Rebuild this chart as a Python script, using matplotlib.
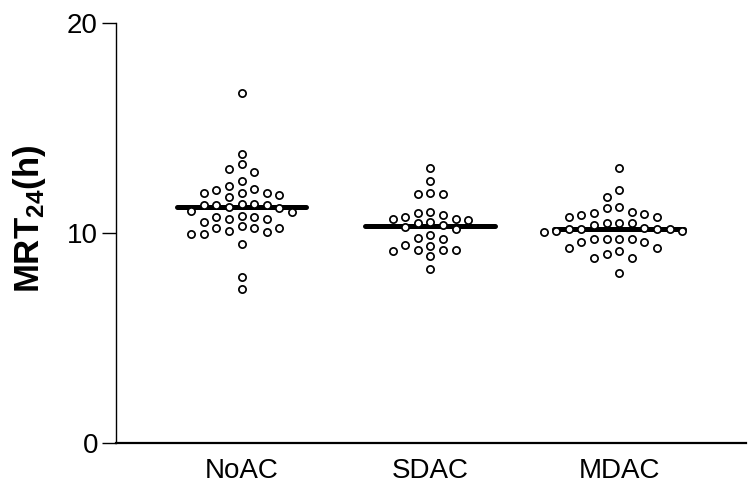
import numpy as np
import matplotlib
matplotlib.use("Agg")
import matplotlib.pyplot as plt

plt.rcParams['font.family'] = ['Liberation Sans', 'DejaVu Sans']
plt.rcParams['mathtext.default'] = 'regular'

categories = ["NoAC", "SDAC", "MDAC"]

noac = [16.68, 13.75, 13.27, 12.89, 13.03, 12.49, 12.08, 12.05, 12.24, 11.92,
        11.89, 11.70, 11.81, 11.89, 11.33, 11.17, 11.38, 11.33, 11.33, 11.38,
        11.22, 10.98, 11.06, 10.67, 10.78, 10.75, 10.81, 10.51, 10.67, 10.33,
        10.06, 10.22, 9.94, 10.10, 10.22, 9.95, 10.22, 9.46, 7.92, 7.33]

sdac = [13.08, 12.48, 11.86, 11.84, 11.89, 10.94, 11.02, 10.78, 10.67, 10.54,
        10.38, 10.30, 10.46, 10.62, 10.67, 10.86, 10.19, 9.90, 9.71, 9.75,
        9.38, 9.19, 9.16, 8.90, 9.19, 9.19, 9.43, 8.27]

mdac = [13.08, 12.05, 11.73, 11.17, 11.22, 11.02, 10.94, 10.86, 10.90, 10.78,
        10.78, 10.49, 10.38, 10.46, 10.49, 10.11, 10.06, 10.17, 10.17, 10.17,
        10.17, 10.22, 10.11, 9.70, 9.70, 9.59, 9.59, 9.70, 9.70, 9.27,
        9.16, 9.27, 8.98, 8.79, 8.79, 8.08]

center_lines = [11.22, 10.33, 10.18]

yticks = [0, 10, 20]

groups = [noac, sdac, mdac]

fig = plt.figure(figsize=(7.55, 4.94), dpi=100)
ax = fig.add_axes([116/755, 1-443/494, (746-116)/755, (443-23)/494])
ax.set_xlim(-0.665, 2.672)
ax.set_ylim(0, 20)

# pixel scales for swarm layout
ax_w_px = 746 - 116
ax_h_px = 443 - 23
x_per_px = (2.672 + 0.665) / ax_w_px
y_per_px = 20 / ax_h_px
col_step_px = 12.6
min_gap_px = 10.0


def swarm_offsets(vals):
    vals = np.asarray(vals, float)
    order = np.argsort(-vals)
    placed = []
    offs = np.zeros(len(vals))
    cands = [0]
    for j in range(1, 20):
        cands += [-j, j]
    for n, i in enumerate(order):
        yp = vals[i] / y_per_px
        for c in cands:
            xp = c * col_step_px
            ok = True
            for (px, py) in placed:
                if abs(px - xp) < 1e-6 and abs(py - yp) < min_gap_px:
                    ok = False
                    break
            if ok:
                placed.append((xp, yp))
                offs[i] = xp * x_per_px
                break
    return offs


for gi, vals in enumerate(groups):
    offs = swarm_offsets(vals)
    ax.plot([gi - 0.344, gi + 0.344], [center_lines[gi]] * 2, color='black',
            lw=3.6, solid_capstyle='round', zorder=2)
    ax.plot(gi + offs, vals, linestyle='none', marker='o', ms=5.2, mew=1.25,
            mfc='white', mec='black', zorder=3)

ax.spines['top'].set_visible(False)
ax.spines['right'].set_visible(False)
ax.spines['left'].set_linewidth(1.0)
ax.spines['bottom'].set_linewidth(1.6)

ax.set_yticks(yticks)
ax.set_yticklabels([str(t) for t in yticks])
ax.tick_params(axis='y', length=10, width=1.0, pad=3, labelsize=20)
ax.set_xticks(range(len(categories)))
ax.set_xticklabels(categories)
ax.tick_params(axis='x', length=0, pad=11, labelsize=20)

fig.text(30/755, 1 - 219/494, 'MRT$_{24}$(h)', rotation=90, ha='center', va='center',
         fontsize=25, fontweight='bold')

fig.savefig('out.png', dpi=100)
